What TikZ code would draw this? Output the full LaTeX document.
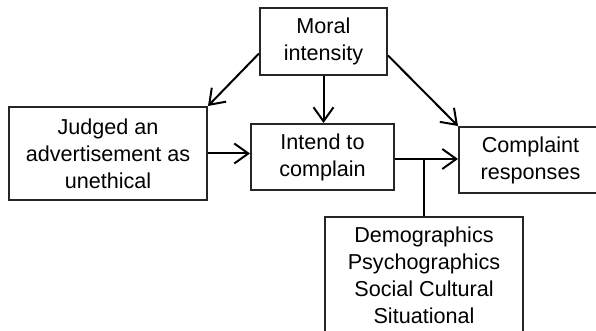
\documentclass[tikz,border=0pt]{standalone}
\usepackage{fontspec}
\setmainfont{Liberation Sans}
\usepackage{tikz}
\usetikzlibrary{arrows.meta,calc}

\begin{document}
\begin{tikzpicture}[x=0.5pt,y=-0.5pt,>={Straight Barb[length=7pt,width=10pt]},line width=1pt]
  \tikzstyle{factor}=[rectangle,draw=black!85,line width=1pt,align=center,
  		      font=\fontsize{10.8}{13.5}\selectfont,inner sep=0pt]
  \tikzstyle{link}=[->,black]

  \clip (0,0) rectangle (596,331);

  \node [factor,minimum width=63.5pt,minimum height=33.5pt] (moral) at (323.5,41.5) {Moral\\intensity};
  \node [factor,minimum width=99pt,minimum height=46.5pt] (judged) at (108,153.5) {Judged an\\advertisement as\\unethical};
  \node [factor,minimum width=71.5pt,minimum height=33pt] (intend) at (322.5,157) {Intend to\\complain};
  \node [factor,minimum width=71.5pt,minimum height=33pt] (resp) at (530.5,160) {Complaint\\responses};
  \node [factor,minimum width=99pt,minimum height=58pt] (moder) at (424,275) {Demographics\\Psychographics\\Social Cultural\\Situational};

  \coordinate (split) at ([yshift=-1pt]intend.east);
  \draw [link] ([yshift=-6pt]moral.west) -- (judged.north east);
  \draw [link] (moral.south) -- (moral.south |- intend.north);
  \draw [link] ([yshift=-7pt]moral.east) -- (resp.north west);
  \draw [link] (judged.east) -- (judged.east -| intend.west);
  \draw [link] (split) -- (split -| resp.west);
  \draw (moder.north) -- (moder.north |- split);
\end{tikzpicture}
\end{document}
